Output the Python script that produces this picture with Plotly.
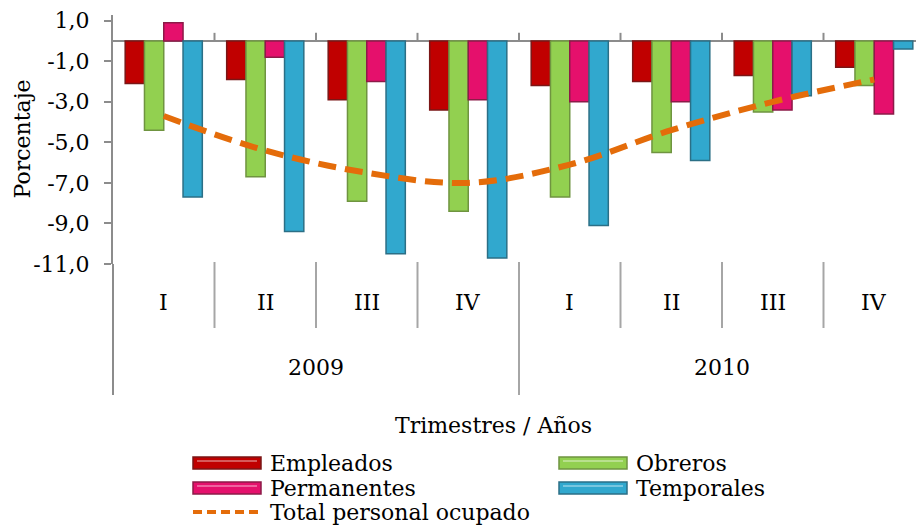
import plotly.graph_objects as go

# Quarterly change in employed personnel by contract type (%)
quarters = ["I", "II", "III", "IV", "I", "II", "III", "IV"]
years = ["2009", "2010"]
empleados = [-2.1, -1.9, -2.9, -3.4, -2.2, -2.0, -1.7, -1.3]
obreros = [-4.4, -6.7, -7.9, -8.4, -7.7, -5.5, -3.5, -2.2]
permanentes = [0.9, -0.8, -2.0, -2.9, -3.0, -3.0, -3.4, -3.6]
temporales = [-7.7, -9.4, -10.5, -10.7, -9.1, -5.9, -2.7, -0.4]
total = [-3.7, -5.4, -6.5, -7.0, -6.1, -4.4, -3.0, -1.9]
y_tick_vals = [1.0, -1.0, -3.0, -5.0, -7.0, -9.0, -11.0]
y_tick_text = [f"{v:.1f}".replace(".", ",") for v in y_tick_vals]

series_names = ["Empleados", "Obreros", "Permanentes", "Temporales"]
line_name = "Total personal ocupado"
x_title = "Trimestres / Años"
y_title = "Porcentaje"

FONT = "DejaVu Serif"
FS = 22
W, H = 916, 527
L, T, B = 113, 15, 263          # plot area margins in px
PW, PH = W - L, H - T - B        # plot area size in px
CAT_PX = 101.5                   # width of one quarter on screen

# fill, edge
styles = {
    "Empleados": ("#C00000", "#7A1616"),
    "Obreros": ("#92D050", "#6F9440"),
    "Permanentes": ("#E5106C", "#8C1B48"),
    "Temporales": ("#31A8CE", "#2B6F86"),
}
LINE_COLOR = "#E46C0A"
AXIS_GRAY = "#8C8C8C"
TEXT_FONT = dict(family=FONT, size=FS, color="black")


def px_x(px):
    return (px - L) / PW


def px_y(py):
    return (H - B - py) / PH


def label(x, y, text, xref="paper", **kw):
    opts = dict(x=x, y=y, xref=xref, yref="paper", text=text, showarrow=False,
                xanchor="center", yanchor="middle", font=TEXT_FONT)
    opts.update(kw)
    return opts


xs = list(range(len(quarters)))
fig = go.Figure()

for name, vals in zip(series_names, [empleados, obreros, permanentes, temporales]):
    fill, edge = styles[name]
    fig.add_trace(go.Bar(
        x=xs, y=vals, name=name, showlegend=False,
        marker=dict(color=fill, line=dict(color=edge, width=1.5)),
    ))

fig.add_trace(go.Scatter(
    x=xs, y=total, name=line_name, mode="lines", showlegend=False,
    line=dict(color=LINE_COLOR, width=6, dash="18px,9px", shape="spline"),
))

shapes = []
annotations = []

# small ticks above the zero line at quarter boundaries
for i in range(1, len(quarters)):
    shapes.append(dict(type="line", xref="x", yref="y", x0=i - 0.5, x1=i - 0.5,
                       y0=0, y1=0.4, line=dict(color=AXIS_GRAY, width=2)))

# y axis line continued through the category label area
shapes.append(dict(type="line", xref="paper", yref="paper", x0=0, x1=0,
                   y0=0, y1=px_y(395), line=dict(color=AXIS_GRAY, width=2)))

# dividers between quarters (short) and between years (long)
per_year = len(quarters) // len(years)
for i in range(1, len(quarters)):
    bottom = 395 if i % per_year == 0 else 328
    shapes.append(dict(type="line", xref="x", yref="paper", x0=i - 0.5, x1=i - 0.5,
                       y0=px_y(262), y1=px_y(bottom),
                       line=dict(color="#A6A6A6", width=2)))

# quarter and year labels
for i, q in enumerate(quarters):
    annotations.append(label(i, px_y(302), q, xref="x"))
for j, yr in enumerate(years):
    annotations.append(label(j * per_year + (per_year - 1) / 2, px_y(367), yr, xref="x"))

# axis titles
annotations.append(label(px_x(493), px_y(425), x_title))
annotations.append(label(px_x(22), 0.5, y_title, textangle=-90))

# legend: bar swatches in two columns, dashed line below
legend_pos = {
    "Empleados": (193, 463),
    "Obreros": (559, 463),
    "Permanentes": (193, 488),
    "Temporales": (559, 488),
}
for name in series_names:
    fill, edge = styles[name]
    sx, sy = legend_pos[name]
    shapes.append(dict(type="rect", xref="paper", yref="paper",
                       x0=px_x(sx), x1=px_x(sx + 68), y0=px_y(sy - 6), y1=px_y(sy + 6),
                       fillcolor=fill, line=dict(color=edge, width=1.5)))
    shapes.append(dict(type="line", xref="paper", yref="paper",
                       x0=px_x(sx + 4), x1=px_x(sx + 64), y0=px_y(sy - 2), y1=px_y(sy - 2),
                       line=dict(color="rgba(255,255,255,0.35)", width=2)))
    annotations.append(label(px_x(sx + 75), px_y(sy), name, xanchor="left"))

shapes.append(dict(type="line", xref="paper", yref="paper",
                   x0=px_x(193), x1=px_x(261), y0=px_y(512), y1=px_y(512),
                   line=dict(color=LINE_COLOR, width=4, dash="9px,5px")))
annotations.append(label(px_x(268), px_y(512), line_name, xanchor="left"))

fig.update_layout(
    width=W, height=H,
    margin=dict(l=L, r=0, t=T, b=B, pad=0),
    paper_bgcolor="white", plot_bgcolor="white",
    barmode="group", bargap=0.24, bargroupgap=0,
    showlegend=False,
    font=TEXT_FONT,
    shapes=shapes, annotations=annotations,
    xaxis=dict(range=[-0.5, -0.5 + PW / CAT_PX], showticklabels=False,
               showgrid=False, zeroline=False, showline=False, ticks=""),
    yaxis=dict(range=[-11, 1.28], tickvals=y_tick_vals, ticktext=y_tick_text,
               showgrid=False, zeroline=True, zerolinecolor=AXIS_GRAY, zerolinewidth=2,
               showline=True, linecolor=AXIS_GRAY, linewidth=2,
               ticks="outside", ticklen=7, tickwidth=2, tickcolor=AXIS_GRAY,
               ticklabelstandoff=10, tickfont=TEXT_FONT),
)

fig.write_html("out.html")
